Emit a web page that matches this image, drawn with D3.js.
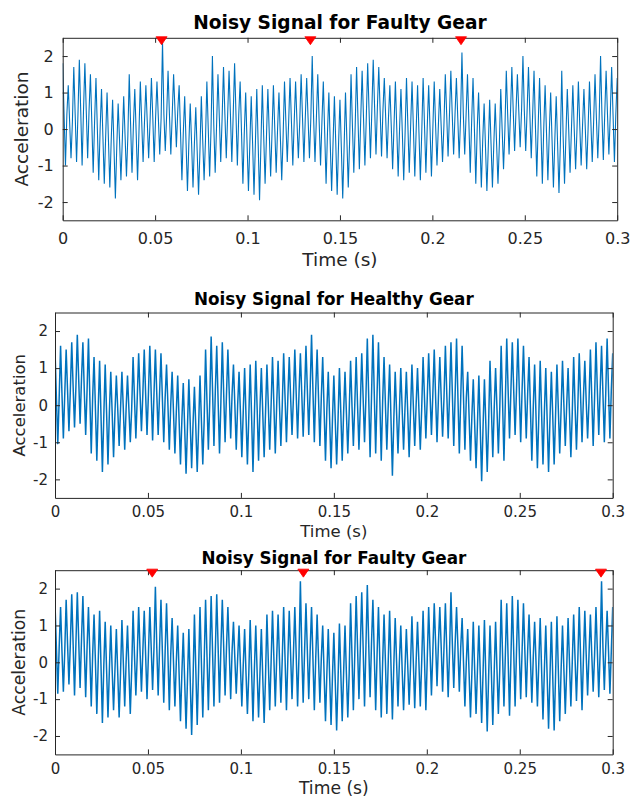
<!DOCTYPE html>
<html>
<head>
<meta charset="utf-8">
<script src="https://cdn.jsdelivr.net/npm/d3@7"></script>
<style>
  body { margin: 0; background: #fff; }
  svg { display: block; font-family: 'DejaVu Sans', sans-serif; }
  .axis path, .axis line { stroke: #262626; }
  .axis text { fill: #262626; font-family: 'DejaVu Sans', sans-serif; }
</style>
</head>
<body>
<svg id="chart" width="630" height="799"></svg>
<script>
// sample grid: one mesh cycle (peak + trough) every 3 ms
const sampleStep = 0.003
const xTicks = [0, 0.05, 0.1, 0.15, 0.2, 0.25, 0.3]
const xTickLabels = ['0', '0.05', '0.1', '0.15', '0.2', '0.25', '0.3']
const yTicks = [-2, -1, 0, 1, 2]
const yTickLabels = ['-2', '-1', '0', '1', '2']

// faulty gear (top) - peaks / troughs / centre level
const faultyPeaks1 = [1.8, 1.2, 1.7, 1.9, 1.8, 1.5, 1.4, 1.1, 1.0, 0.8, 0.7, 0.9, 1.5, 1.1, 1.3, 1.2, 1.4, 1.3, 2.4, 1.6,
  1.5, 1.2, 0.9, 0.7, 0.6, 0.9, 1.3, 2.0, 1.5, 1.7, 1.6, 1.8, 1.3, 1.0, 0.9, 1.1, 1.2, 1.1, 1.2, 1.0,
  1.3, 1.4, 1.3, 1.5, 1.4, 2.0, 1.5, 1.3, 1.0, 0.9, 0.8, 1.0, 1.5, 1.7, 1.6, 1.8, 1.9, 1.7, 1.4, 1.2,
  1.3, 1.1, 1.4, 1.3, 1.2, 1.4, 1.2, 1.3, 1.1, 1.5, 1.6, 1.4, 2.1, 1.5, 1.4, 1.0, 0.7, 0.8, 0.7, 1.1,
  1.6, 1.7, 1.5, 2.0, 1.7, 1.6, 1.4, 1.2, 1.0, 0.9, 1.6, 1.1, 1.2, 1.3, 1.1, 1.3, 1.5, 2.0, 1.6, 1.7, 1.4]
const faultyTroughs1 = [-1.0, -0.8, -0.9, -1.0, -0.8, -1.2, -1.4, -1.5, -1.6, -1.9, -1.4, -1.3, -1.2, -1.4, -0.9, -0.8, -0.9, -0.7, -0.6, -0.7,
  -0.5, -1.4, -1.7, -1.6, -1.8, -1.4, -1.3, -1.2, -0.9, -0.8, -0.9, -1.0, -1.5, -1.7, -1.8, -1.95, -1.5, -1.3, -1.2, -1.4,
  -0.9, -1.0, -0.8, -0.9, -0.8, -0.9, -1.0, -1.5, -1.7, -1.8, -1.9, -1.6, -1.2, -1.1, -1.0, -0.8, -0.7, -0.75, -0.8, -1.1,
  -1.3, -1.4, -1.2, -1.3, -1.4, -1.2, -1.3, -1.0, -0.9, -0.75, -0.7, -0.8, -0.7, -1.2, -1.5, -1.6, -1.7, -1.6, -1.5, -1.1,
  -0.7, -0.6, -0.5, -0.6, -0.8, -1.3, -1.5, -1.4, -1.6, -1.75, -1.5, -1.2, -1.1, -1.0, -1.1, -0.9, -0.8, -0.85, -0.7, -0.9, -0.8]
const faultyCentre1 = [0.4, 0.2, 0.4, 0.5, 0.5, 0.2, 0, -0.2, -0.3, -0.5, -0.3, -0.2, 0.1, -0.1, 0.2, 0.2, 0.3, 0.3, 0.4, 0.4,
  0.5, -0.1, -0.4, -0.4, -0.6, -0.3, 0, 0.1, 0.3, 0.4, 0.4, 0.4, -0.1, -0.4, -0.4, -0.4, -0.2, -0.1, 0, -0.2,
  0.2, 0.2, 0.2, 0.3, 0.3, 0.3, 0.2, -0.1, -0.4, -0.4, -0.5, -0.3, 0.1, 0.3, 0.3, 0.5, 0.6, 0.5, 0.3, 0.1,
  0, -0.1, 0.1, 0, -0.1, 0.1, 0, 0.1, 0.1, 0.4, 0.4, 0.3, 0.4, 0.2, 0, -0.3, -0.5, -0.4, -0.4, 0,
  0.4, 0.5, 0.5, 0.5, 0.4, 0.1, 0, -0.1, -0.3, -0.4, -0.2, 0, 0, 0.1, 0, 0.2, 0.3, 0.4, 0.4, 0.4, 0.3]
const faultyMarks1 = [0.0535, 0.134, 0.2155]

// healthy gear (middle)
const healthyPeaks = [1.5, 1.6, 1.5, 1.7, 1.9, 1.7, 1.8, 1.3, 1.2, 1.1, 0.9, 0.8, 0.9, 0.8, 1.3, 1.4, 1.5, 1.6, 1.5, 1.4,
  1.1, 0.9, 0.8, 0.6, 0.7, 0.5, 0.8, 1.5, 1.85, 1.6, 1.7, 1.5, 1.1, 0.9, 1.0, 1.1, 1.2, 1.0, 1.1, 1.3,
  1.2, 1.4, 1.3, 1.5, 1.4, 1.6, 1.9, 1.5, 1.3, 0.9, 0.8, 1.0, 0.9, 1.2, 1.3, 1.4, 1.8, 1.9, 1.7, 1.3,
  1.1, 0.9, 1.0, 0.9, 1.1, 1.0, 1.3, 1.4, 1.5, 1.3, 1.6, 1.7, 1.8, 1.6, 0.9, 0.7, 0.8, 0.7, 1.2, 1.0,
  1.6, 1.8, 1.7, 1.8, 1.6, 1.3, 1.1, 1.2, 1.0, 0.9, 1.1, 1.2, 1.0, 1.3, 1.4, 1.2, 1.5, 1.7, 1.6, 1.8, 1.4]
const healthyTroughs = [-1.05, -0.9, -0.7, -0.6, -0.5, -0.8, -1.3, -1.5, -1.8, -1.6, -1.4, -1.1, -1.2, -1.0, -0.9, -0.7, -0.8, -0.95, -0.8, -1.0,
  -1.2, -1.3, -1.6, -1.85, -1.7, -1.8, -1.6, -1.2, -1.1, -1.3, -1.0, -0.9, -1.2, -1.4, -1.6, -1.8, -1.5, -1.4, -1.2, -1.3,
  -1.1, -1.0, -0.8, -0.9, -0.85, -0.8, -1.0, -1.1, -1.5, -1.7, -1.6, -1.5, -1.3, -1.1, -1.2, -1.0, -1.4, -1.3, -1.5, -1.2,
  -1.9, -1.3, -1.2, -1.4, -1.1, -1.2, -0.9, -0.8, -1.0, -0.85, -0.9, -1.1, -1.3, -1.2, -1.5, -1.7, -2.05, -1.8, -1.4, -1.3,
  -1.5, -0.9, -0.8, -1.0, -0.9, -1.5, -1.7, -1.6, -1.8, -1.6, -1.3, -1.1, -1.4, -1.2, -1.0, -0.9, -1.1, -0.8, -1.0, -0.9, -1.1]
const healthyCentre = [0.2, 0.3, 0.4, 0.5, 0.7, 0.4, 0.2, -0.1, -0.3, -0.2, -0.2, -0.1, -0.1, -0.1, 0.2, 0.3, 0.3, 0.3, 0.3, 0.2,
  0, -0.2, -0.4, -0.6, -0.5, -0.6, -0.4, 0.1, 0.4, 0.1, 0.3, 0.3, 0, -0.2, -0.3, -0.3, -0.1, -0.2, 0, 0,
  0, 0.2, 0.2, 0.3, 0.3, 0.4, 0.4, 0.2, -0.1, -0.4, -0.4, -0.2, -0.2, 0, 0, 0.2, 0.2, 0.3, 0.1, 0,
  -0.4, -0.2, -0.1, -0.2, 0, -0.1, 0.2, 0.3, 0.2, 0.2, 0.3, 0.3, 0.2, 0.2, -0.3, -0.5, -0.6, -0.5, -0.1, -0.1,
  0.1, 0.4, 0.4, 0.4, 0.3, -0.1, -0.3, -0.2, -0.4, -0.3, -0.1, 0, -0.2, 0, 0.2, 0.1, 0.2, 0.4, 0.3, 0.4, 0.1]

// faulty gear (bottom)
const faultyPeaks2 = [1.6, 1.5, 1.7, 1.85, 1.9, 1.8, 1.5, 1.3, 1.4, 1.1, 1.0, 0.9, 1.15, 1.0, 1.4, 1.5, 1.4, 1.5, 2.05, 1.7,
  1.6, 1.2, 1.0, 0.8, 0.9, 1.3, 1.5, 1.7, 1.8, 1.85, 1.7, 1.5, 1.1, 1.0, 0.9, 1.15, 1.0, 0.9, 1.3, 1.4,
  1.3, 1.5, 1.4, 1.5, 2.2, 1.6, 1.5, 1.3, 1.0, 0.9, 0.8, 1.05, 1.0, 1.6, 1.8, 1.9, 2.1, 1.7, 1.5, 1.3,
  1.4, 1.2, 1.0, 0.9, 1.25, 1.1, 1.4, 1.5, 1.6, 1.5, 1.6, 1.9, 1.5, 1.2, 0.9, 1.1, 1.0, 1.15, 1.0, 1.1,
  1.7, 1.6, 1.8, 1.7, 1.6, 1.3, 1.1, 1.2, 1.0, 1.1, 1.25, 1.0, 1.2, 1.3, 1.5, 1.4, 1.3, 1.5, 2.2, 1.4, 1.5]
const faultyTroughs2 = [-0.85, -0.8, -0.6, -0.9, -0.7, -0.95, -1.2, -1.4, -1.65, -1.5, -1.3, -1.5, -1.2, -1.4, -0.9, -0.8, -1.0, -0.75, -0.9, -1.1,
  -1.3, -1.2, -1.6, -1.8, -1.97, -1.7, -1.5, -1.3, -1.2, -1.1, -0.9, -1.0, -0.85, -1.2, -1.4, -1.6, -1.5, -1.65, -1.3, -1.2,
  -1.1, -1.3, -1.0, -1.2, -1.1, -1.0, -1.3, -1.1, -1.6, -1.7, -1.85, -1.6, -1.5, -1.3, -1.0, -1.2, -0.95, -1.3, -1.5, -1.4,
  -1.55, -1.2, -1.3, -1.15, -1.25, -1.2, -1.3, -0.9, -0.65, -0.8, -0.95, -0.7, -0.8, -1.2, -1.5, -1.4, -1.65, -1.88, -1.7, -1.4,
  -1.2, -1.45, -1.2, -1.0, -0.95, -1.1, -1.2, -1.55, -1.8, -1.85, -1.6, -1.4, -1.2, -1.05, -1.3, -0.9, -0.8, -0.95, -0.75, -0.85, -0.9]
const faultyCentre2 = [0.4, 0.3, 0.5, 0.5, 0.6, 0.4, 0.2, 0, -0.1, -0.2, -0.2, -0.3, 0, -0.2, 0.2, 0.3, 0.2, 0.4, 0.4, 0.3,
  0.2, 0, -0.3, -0.5, -0.5, -0.2, 0, 0.2, 0.3, 0.4, 0.4, 0.3, 0.1, -0.1, -0.3, -0.2, -0.3, -0.4, 0, 0.1,
  0.1, 0.1, 0.2, 0.2, 0.3, 0.3, 0.1, 0.1, -0.3, -0.4, -0.5, -0.3, -0.3, 0.2, 0.4, 0.4, 0.5, 0.2, 0, 0,
  -0.1, 0, -0.2, -0.1, 0, 0, 0.1, 0.3, 0.5, 0.4, 0.3, 0.5, 0.4, 0, -0.3, -0.2, -0.3, -0.4, -0.3, -0.2,
  0.2, 0.1, 0.3, 0.3, 0.3, 0.1, 0, -0.2, -0.4, -0.4, -0.2, -0.2, 0, 0.1, 0.1, 0.2, 0.2, 0.3, 0.4, 0.3, 0.3]
const faultyMarks2 = [0.0523, 0.1336, 0.2937]

// level where the peak markers sit
const markLevel = 2.42

const panels = [
  { title: 'Noisy Signal for Faulty Gear', peaks: faultyPeaks1, troughs: faultyTroughs1, centre: faultyCentre1, marks: faultyMarks1,
    box: { left: 62.7, top: 37.8, right: 617.2, bottom: 220.3 },
    titleY: 29, titleSize: 18.6, tickSize: 16, labelSize: 18.5, xPad: 12, yPad: 9, xLabelY: 266, yLabelX: 22, lineWidth: 1.1 },
  { title: 'Noisy Signal for Healthy Gear', peaks: healthyPeaks, troughs: healthyTroughs, centre: healthyCentre, marks: [],
    box: { left: 55, top: 312.5, right: 612.7, bottom: 497.9 },
    titleY: 305, titleSize: 16.8, tickSize: 15, labelSize: 16.5, xPad: 8, yPad: 7, xLabelY: 537, yLabelX: 19, lineWidth: 1.5 },
  { title: 'Noisy Signal for Faulty Gear', peaks: faultyPeaks2, troughs: faultyTroughs2, centre: faultyCentre2, marks: faultyMarks2,
    box: { left: 55, top: 570.2, right: 612.7, bottom: 754.4 },
    titleY: 564, titleSize: 16.8, tickSize: 15, labelSize: 17.2, xPad: 8.5, yPad: 7, xLabelY: 794, yLabelX: 19, lineWidth: 1.5 },
]

const svg = d3.select('#chart')

panels.forEach((p, k) => {
  const b = p.box
  const x = d3.scaleLinear().domain([0, 0.3]).range([b.left, b.right])
  const y = d3.scaleLinear().domain([-2.5, 2.5]).range([b.bottom, b.top])
  const g = svg.append('g')
  const line = d3.line().x((d) => x(d[0])).y((d) => y(d[1]))

  // clip the signal to the axes
  g.append('clipPath')
    .attr('id', 'clip' + k)
    .append('rect')
    .attr('x', b.left)
    .attr('y', b.top)
    .attr('width', b.right - b.left)
    .attr('height', b.bottom - b.top)

  // fast oscillation: peak -> centre -> trough -> centre in every cycle
  const pts = []
  p.peaks.forEach((v, i) => {
    const t0 = i * sampleStep
    pts.push([t0, v])
    pts.push([t0 + sampleStep * 0.25, p.centre[i]])
    pts.push([t0 + sampleStep * 0.5, p.troughs[i]])
    pts.push([t0 + sampleStep * 0.75, p.centre[i]])
  })

  g.append('path')
    .datum(pts)
    .attr('clip-path', 'url(#clip' + k + ')')
    .attr('fill', 'none')
    .attr('stroke', '#0072BD')
    .attr('stroke-width', p.lineWidth)
    .attr('d', line)

  // axes: labelled bottom/left, bare ticks top/right, all ticks inward
  const fmtX = (d) => xTickLabels[xTicks.indexOf(d)]
  const fmtY = (d) => yTickLabels[yTicks.indexOf(d)]

  g.append('g')
    .attr('class', 'axis')
    .attr('transform', 'translate(0,' + b.bottom + ')')
    .call(d3.axisBottom(x).tickValues(xTicks).tickFormat(fmtX).tickSizeInner(-5).tickSizeOuter(0).tickPadding(p.xPad))
    .call((a) => a.selectAll('text').attr('font-size', p.tickSize))
  g.append('g')
    .attr('class', 'axis')
    .attr('transform', 'translate(' + b.left + ',0)')
    .call(d3.axisLeft(y).tickValues(yTicks).tickFormat(fmtY).tickSizeInner(-5).tickSizeOuter(0).tickPadding(p.yPad))
    .call((a) => a.selectAll('text').attr('font-size', p.tickSize))
  g.append('g')
    .attr('class', 'axis')
    .attr('transform', 'translate(0,' + b.top + ')')
    .call(d3.axisTop(x).tickValues(xTicks).tickFormat('').tickSizeInner(-5).tickSizeOuter(0))
  g.append('g')
    .attr('class', 'axis')
    .attr('transform', 'translate(' + b.right + ',0)')
    .call(d3.axisRight(y).tickValues(yTicks).tickFormat('').tickSizeInner(-5).tickSizeOuter(0))
  g.selectAll('.axis path').attr('stroke-width', 1)

  // peak markers
  g.selectAll('.mark')
    .data(p.marks)
    .enter()
    .append('path')
    .attr('class', 'mark')
    .attr('transform', (d) => 'translate(' + x(d) + ',' + y(markLevel) + ')')
    .attr('d', 'M-5.5,-4L5.5,-4L0,4Z')
    .attr('fill', '#ff0000')
    .attr('stroke', '#ff0000')
    .attr('stroke-width', 0.8)

  // title and axis labels
  g.append('text')
    .attr('x', (b.left + b.right) / 2)
    .attr('y', p.titleY)
    .attr('text-anchor', 'middle')
    .attr('font-weight', 'bold')
    .attr('font-size', p.titleSize)
    .attr('fill', '#000')
    .text(p.title)

  g.append('text')
    .attr('x', (b.left + b.right) / 2)
    .attr('y', p.xLabelY)
    .attr('text-anchor', 'middle')
    .attr('font-size', p.labelSize)
    .attr('fill', '#262626')
    .text('Time (s)')

  g.append('text')
    .attr('transform', 'translate(' + p.yLabelX + ',' + (b.top + b.bottom) / 2 + ')rotate(-90)')
    .attr('text-anchor', 'middle')
    .attr('dy', '0.35em')
    .attr('font-size', p.labelSize)
    .attr('fill', '#262626')
    .text('Acceleration')
})
</script>
</body>
</html>
